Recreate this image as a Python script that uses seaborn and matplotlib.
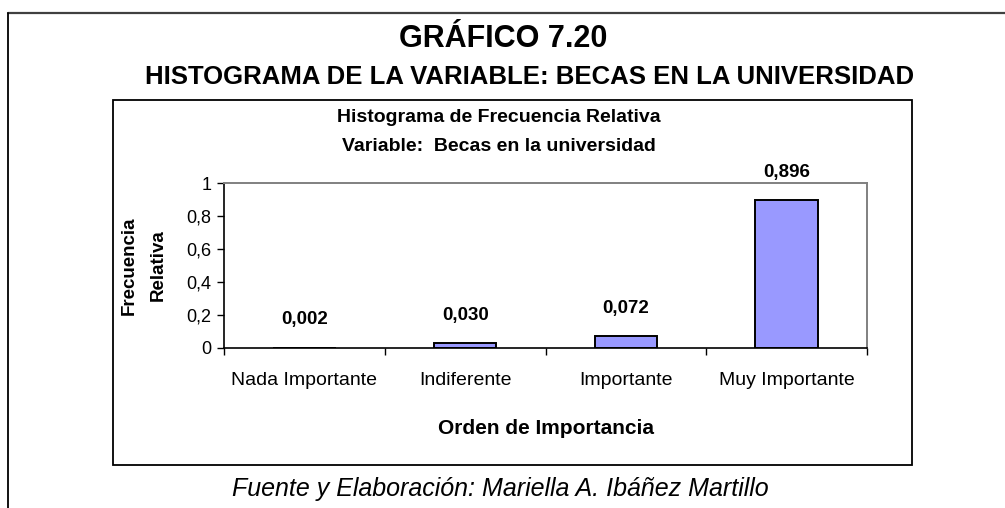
import numpy as np
import pandas as pd
import seaborn as sns
import matplotlib.pyplot as plt
from matplotlib.lines import Line2D
from matplotlib.patches import Rectangle

# datos
categorias = ['Nada Importante', 'Indiferente', 'Importante', 'Muy Importante']
frecuencia = [0.002, 0.030, 0.072, 0.896]
etiquetas = ['0,002', '0,030', '0,072', '0,896']
yticks = [0, 0.2, 0.4, 0.6, 0.8, 1]
yticklabels = ['0', '0,2', '0,4', '0,6', '0,8', '1']

df = pd.DataFrame({'Orden': categorias, 'Frecuencia': frecuencia})

sns.set_style('white')
plt.rcParams['font.family'] = ['Liberation Sans', 'DejaVu Sans']
plt.rcParams['text.color'] = 'black'
plt.rcParams['axes.labelcolor'] = 'black'
plt.rcParams['xtick.color'] = 'black'
plt.rcParams['ytick.color'] = 'black'

W, H = 1005, 508
fig = plt.figure(figsize=(W / 100, H / 100), dpi=100)

def px(x0, y0, x1, y1):
    return [x0 / W, 1 - y1 / H, (x1 - x0) / W, (y1 - y0) / H]

# marco exterior
fig.add_artist(Line2D([8 / W, 1], [1 - 12.5 / H, 1 - 12.5 / H], color='#404040', lw=1.6))
fig.add_artist(Line2D([8 / W, 8 / W], [0, 1 - 12.5 / H], color='black', lw=1.3))
# recuadro del grafico
fig.add_artist(Rectangle((113 / W, 1 - 465 / H), (912 - 113) / W, (465 - 100) / H,
                         fill=False, edgecolor='black', lw=1.3))

fig.text(503 / W, 1 - 39 / H, 'GRÁFICO 7.20', ha='center', va='center',
         fontsize=22, fontweight='bold')
fig.text(530 / W, 1 - 77 / H, 'HISTOGRAMA DE LA VARIABLE: BECAS EN LA UNIVERSIDAD',
         ha='center', va='center', fontsize=18.5, fontweight='bold')
fig.text(499 / W, 1 - 118 / H, 'Histograma de Frecuencia Relativa', ha='center',
         va='center', fontsize=14, fontweight='bold')
fig.text(499 / W, 1 - 147 / H, 'Variable:  Becas en la universidad', ha='center',
         va='center', fontsize=14, fontweight='bold')
fig.text(500 / W, 1 - 489 / H, 'Fuente y Elaboración: Mariella A. Ibáñez Martillo',
         ha='center', va='center', fontsize=18, style='italic')

ax = fig.add_axes(px(224, 183, 867, 348))
sns.barplot(data=df, x='Orden', y='Frecuencia', color='#9999FF', width=0.39,
            edgecolor='black', linewidth=1.4, saturation=1, ax=ax)

for i, (v, t) in enumerate(zip(frecuencia, etiquetas)):
    ax.annotate(t, (i, v), xytext=(0, 20), textcoords='offset points',
                ha='center', va='center', fontsize=13.5, fontweight='bold')

ax.set_xlim(-0.5, 3.5)
ax.set_ylim(0, 1)
ax.set_yticks(yticks)
ax.set_yticklabels(yticklabels, fontsize=13)
ax.set_xticks(np.arange(-0.5, 4, 1))
ax.set_xticklabels([''] * 5)
ax.set_xticks(range(4), minor=True)
ax.set_xticklabels(categorias, minor=True, fontsize=14)
ax.tick_params(axis='x', which='major', direction='out', length=5, width=1, color='black', bottom=True)
ax.tick_params(axis='x', which='minor', length=0, pad=17)
ax.tick_params(axis='y', direction='out', length=5, width=1, color='black', left=True, pad=4)

for s in ['left', 'bottom']:
    ax.spines[s].set_color('black')
    ax.spines[s].set_linewidth(1.2)
for s in ['top', 'right']:
    ax.spines[s].set_color('#808080')
    ax.spines[s].set_linewidth(1.4)

ax.set_xlabel('Orden de Importancia', fontsize=15, fontweight='bold', labelpad=22)
ax.set_ylabel('Frecuencia\nRelativa', fontsize=13.5, fontweight='bold', labelpad=14,
              linespacing=1.9)

plt.savefig('out.png', dpi=100)
